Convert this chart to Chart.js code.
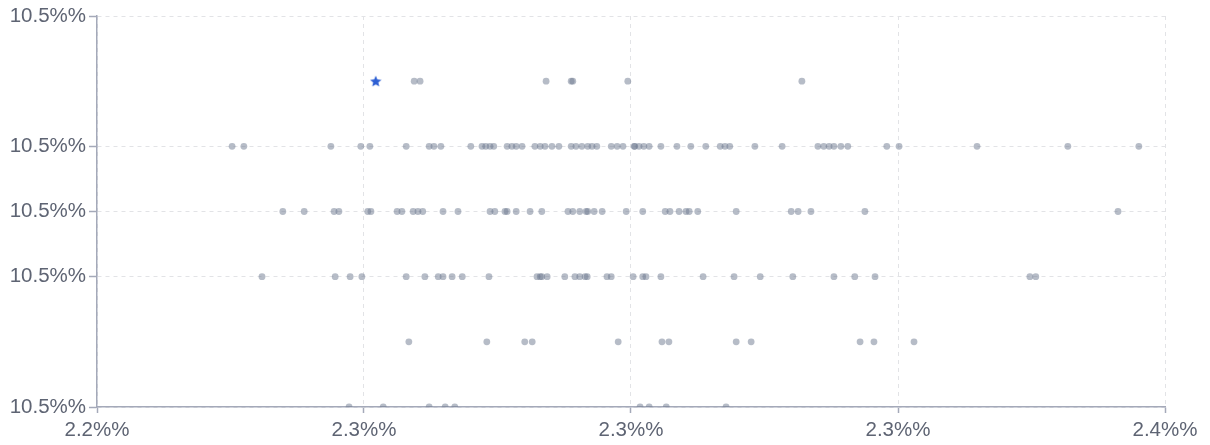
<!DOCTYPE html>
<html>
<head>
<meta charset="utf-8">
<script src="https://cdn.jsdelivr.net/npm/chart.js@4/dist/chart.umd.min.js"></script>
<style>
  html, body { margin: 0; padding: 0; background: #ffffff; }
  #wrap { width: 1210px; height: 445px; position: relative; }
</style>
</head>
<body>
<div id="wrap"><canvas id="chart"></canvas></div>
<script>
// Observations grouped by rate level (x in %, one array per y level)
const rateLevels = [10.47, 10.48, 10.49, 10.50, 10.51, 10.52];

const xAt1047 = [2.2472, 2.2536, 2.2622, 2.2652, 2.2670, 2.3017, 2.3034, 2.3066, 2.3178];
const xAt1048 = [2.2584, 2.2730, 2.2801, 2.2815, 2.2976, 2.3058, 2.3071, 2.3197, 2.3225,
                 2.3429, 2.3455, 2.3530];
const xAt1049 = [2.2309, 2.2446, 2.2474, 2.2496, 2.2579, 2.2614, 2.2639, 2.2648, 2.2665,
                 2.2684, 2.2734, 2.2824, 2.2830, 2.2833, 2.2843, 2.2876, 2.2895, 2.2904,
                 2.2914, 2.2918, 2.2955, 2.2963, 2.3004, 2.3022, 2.3028, 2.3056, 2.3135,
                 2.3193, 2.3242, 2.3303, 2.3380, 2.3419, 2.3457, 2.3747, 2.3758];
const xAt1050 = [2.2348, 2.2388, 2.2444, 2.2453, 2.2507, 2.2513, 2.2562, 2.2571, 2.2592,
                 2.2601, 2.2610, 2.2648, 2.2676, 2.2736, 2.2745, 2.2764, 2.2768, 2.2785,
                 2.2811, 2.2833, 2.2882, 2.2891, 2.2904, 2.2916, 2.2919, 2.2931, 2.2946,
                 2.2991, 2.3022, 2.3064, 2.3073, 2.3090, 2.3103, 2.3109, 2.3125, 2.3197,
                 2.3300, 2.3313, 2.3337, 2.3438, 2.3912];
const xAt1051 = [2.2253, 2.2275, 2.2438, 2.2494, 2.2511, 2.2579, 2.2622, 2.2631, 2.2644,
                 2.2700, 2.2721, 2.2728, 2.2736, 2.2743, 2.2768, 2.2777, 2.2785, 2.2796,
                 2.2820, 2.2830, 2.2839, 2.2852, 2.2865, 2.2888, 2.2897, 2.2908, 2.2919,
                 2.2927, 2.2936, 2.2963, 2.2974, 2.2985, 2.3006, 2.3007, 2.3015, 2.3024,
                 2.3034, 2.3056, 2.3086, 2.3112, 2.3140, 2.3167, 2.3176, 2.3185, 2.3232,
                 2.3283, 2.3350, 2.3361, 2.3371, 2.3380, 2.3393, 2.3406, 2.3479, 2.3502,
                 2.3648, 2.3818, 2.3951];
const xAt1052 = [2.2594, 2.2605, 2.2841, 2.2888, 2.2891, 2.2994, 2.3320];

// Highlighted observation
const highlightX = 2.2522;
const highlightY = 10.52;

// Axis ticks
const xTickValues = [2.20, 2.25, 2.30, 2.35, 2.40];
const xTickLabels = ['2.2%%', '2.3%%', '2.3%%', '2.3%%', '2.4%%'];
const yTickValues = [10.47, 10.49, 10.50, 10.51, 10.53];
const yTickLabels = ['10.5%%', '10.5%%', '10.5%%', '10.5%%', '10.5%%'];

const rows = [xAt1047, xAt1048, xAt1049, xAt1050, xAt1051, xAt1052];
const scatterPoints = [];
rows.forEach((xs, i) => xs.forEach(x => scatterPoints.push({ x: x, y: rateLevels[i] })));

// Filled star marker
function makeStar(size, color) {
  const c = document.createElement('canvas');
  c.width = size; c.height = size;
  const g = c.getContext('2d');
  const cx = size / 2, cy = size / 2 + 0.5;
  const rOut = size / 2, rIn = rOut * 0.45;
  g.beginPath();
  for (let i = 0; i < 10; i++) {
    const r = i % 2 === 0 ? rOut : rIn;
    const a = -Math.PI / 2 + i * Math.PI / 5;
    const px = cx + r * Math.cos(a), py = cy + r * Math.sin(a);
    if (i === 0) g.moveTo(px, py); else g.lineTo(px, py);
  }
  g.closePath();
  g.fillStyle = color;
  g.fill();
  return c;
}

const axisColor = '#a4a9b9';
const gridColor = '#e2e3e6';
const textColor = '#5e6473';
const tickFont = { family: '"Liberation Sans", Arial, Helvetica, sans-serif', size: 20.5 };

new Chart(document.getElementById('chart'), {
  type: 'scatter',
  data: {
    datasets: [
      {
        data: [{ x: highlightX, y: highlightY }],
        pointStyle: makeStar(12, '#2d5fd3'),
        pointRadius: 6,
        order: 0
      },
      {
        data: scatterPoints,
        pointStyle: 'circle',
        pointRadius: 3.4,
        pointBorderWidth: 0,
        backgroundColor: 'rgba(110,122,144,0.5)',
        borderColor: 'rgba(0,0,0,0)',
        order: 1
      }
    ]
  },
  options: {
    responsive: true,
    maintainAspectRatio: false,
    animation: false,
    events: [],
    layout: { padding: { top: 16, right: 45, bottom: 0, left: 0 } },
    plugins: { legend: { display: false }, tooltip: { enabled: false } },
    scales: {
      x: {
        type: 'linear',
        min: 2.20,
        max: 2.40,
        afterBuildTicks: s => { s.ticks = xTickValues.map(v => ({ value: v })); },
        afterFit: s => { s.height = 38; },
        ticks: {
          callback: (v, i) => xTickLabels[i],
          color: textColor,
          font: tickFont,
          padding: 5,
          maxRotation: 0,
          autoSkip: false
        },
        grid: { color: gridColor, lineWidth: 1, tickLength: 6, tickColor: axisColor, tickWidth: 1.5 },
        border: { display: true, color: axisColor, width: 1.5, dash: [4, 4] }
      },
      y: {
        type: 'linear',
        min: 10.47,
        max: 10.53,
        afterBuildTicks: s => { s.ticks = yTickValues.map(v => ({ value: v })); },
        afterFit: s => { s.width = 97; },
        ticks: {
          callback: (v, i) => yTickLabels[i],
          color: textColor,
          font: tickFont,
          padding: 3,
          autoSkip: false
        },
        grid: { color: gridColor, lineWidth: 1, tickLength: 8, tickColor: axisColor, tickWidth: 1.5 },
        border: { display: true, color: axisColor, width: 1.5, dash: [4, 4] }
      }
    }
  }
});
</script>
</body>
</html>
